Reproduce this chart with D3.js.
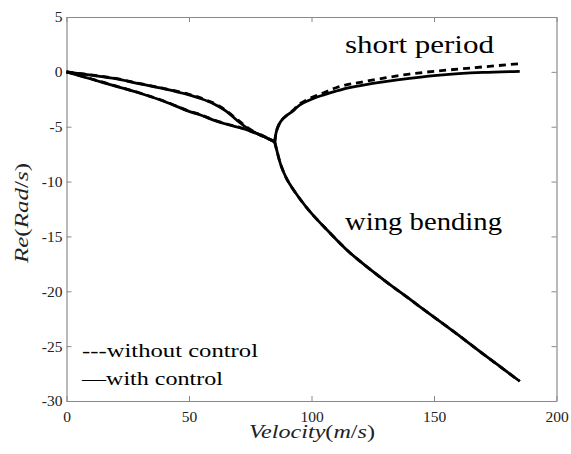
<!DOCTYPE html>
<html><head><meta charset="utf-8">
<script src="https://cdn.jsdelivr.net/npm/d3@7/dist/d3.min.js"></script>
<style>body{margin:0;background:#fff}svg{display:block}
text{font-family:"Liberation Serif","Times New Roman","DejaVu Serif",serif}</style>
</head><body>
<svg id="c" width="571" height="454"></svg>
<script>
// Velocity samples (m/s) and real parts (rad/s)
const velPre = [0, 10, 20, 30, 40, 50, 55, 60, 65, 70, 75, 80, 85];
const upperPreWith    = [0, -0.3, -0.62, -1.1, -1.55, -2.1, -2.45, -2.9, -3.55, -4.5, -5.3, -5.85, -6.35];
const upperPreWithout = [0, -0.28, -0.6, -1.07, -1.52, -2.05, -2.4, -2.85, -3.5, -4.4, -5.25, -5.85, -6.35];
const lowerPreWith    = [0, -0.65, -1.3, -1.95, -2.7, -3.6, -3.95, -4.4, -4.75, -5.05, -5.4, -5.85, -6.4];
const lowerPreWithout = [0, -0.63, -1.28, -1.93, -2.68, -3.57, -3.93, -4.37, -4.72, -5.02, -5.38, -5.8, -6.4];

const velShort = [85, 85.5, 86.5, 88, 90, 92.5, 95, 100, 105, 110, 115, 120, 130, 140, 150, 160, 170, 185];
const shortWith    = [-6.4, -5.6, -4.9, -4.35, -3.95, -3.55, -3.05, -2.5, -2.1, -1.75, -1.45, -1.25, -0.9, -0.6, -0.35, -0.17, -0.05, 0.05];
const shortWithout = [-6.4, -5.6, -4.9, -4.35, -3.95, -3.5, -2.95, -2.35, -1.9, -1.45, -1.15, -0.95, -0.55, -0.2, 0.05, 0.25, 0.45, 0.75];

const velWing = [85, 86, 87.5, 90, 95, 100, 105, 110, 115, 120, 130, 140, 150, 160, 170, 185];
const wingWith    = [-6.4, -7.3, -8.5, -9.8, -11.5, -12.9, -14.1, -15.25, -16.35, -17.3, -19.05, -20.7, -22.35, -24.0, -25.7, -28.2];
const wingWithout = [-6.4, -7.3, -8.5, -9.8, -11.5, -12.9, -14.1, -15.25, -16.35, -17.3, -19.05, -20.7, -22.35, -24.0, -25.7, -28.2];

const xTicks = [0, 50, 100, 150, 200];
const yTicks = [5, 0, -5, -10, -15, -20, -25, -30];
const modeLabels = ["short period", "wing bending"];
const legendLabels = ["---without control", "\u2014with control"];

const svg = d3.select("#c");
const L = 66.5, R = 556.5, T = 17, B = 401;
const x = d3.scaleLinear().domain([0, 200]).range([L, R]);
const y = d3.scaleLinear().domain([-30, 5]).range([B, T]);
const axisColor = "#8a8a8a";
const fmt = d => String(d);

function styleAxis(g, noLabels) {
  g.attr("font-family", null);
  g.select(".domain").attr("stroke", axisColor).attr("stroke-width", 1.2);
  g.selectAll(".tick line").attr("stroke", axisColor).attr("stroke-width", 1);
  g.selectAll(".tick text").attr("font-size", 15.5).attr("fill", "#222");
  if (noLabels) g.selectAll(".tick text").remove();
}
svg.append("g").attr("transform", `translate(0,${B})`)
  .call(d3.axisBottom(x).tickValues(xTicks).tickFormat(fmt).tickSizeInner(-5).tickSizeOuter(0).tickPadding(10))
  .call(g => styleAxis(g, false));
svg.append("g").attr("transform", `translate(0,${T})`)
  .call(d3.axisTop(x).tickValues(xTicks).tickSizeInner(-5).tickSizeOuter(0))
  .call(g => styleAxis(g, true));
svg.append("g").attr("transform", `translate(${L},0)`)
  .call(d3.axisLeft(y).tickValues(yTicks).tickFormat(fmt).tickSizeInner(-5).tickSizeOuter(0).tickPadding(4))
  .call(g => styleAxis(g, false));
svg.append("g").attr("transform", `translate(${R},0)`)
  .call(d3.axisRight(y).tickValues(yTicks).tickSizeInner(-5).tickSizeOuter(0))
  .call(g => styleAxis(g, true));

const lineGen = d3.line().x(d => x(d[0])).y(d => y(d[1])).curve(d3.curveCatmullRom.alpha(0.5));
function draw(vs, ys, dashed) {
  svg.append("path").datum(vs.map((v, i) => [v, ys[i]]))
    .attr("d", lineGen).attr("fill", "none").attr("stroke", "#000")
    .attr("stroke-width", 2.8).attr("stroke-linejoin", "round")
    .attr("stroke-dasharray", dashed ? "7,5" : null);
}
draw(velPre, upperPreWithout, true);
draw(velPre, lowerPreWithout, true);
draw(velShort, shortWithout, true);
draw(velWing, wingWithout, true);
draw(velPre, upperPreWith, false);
draw(velPre, lowerPreWith, false);
draw(velShort, shortWith, false);
draw(velWing, wingWith, false);

svg.append("text").attr("x", 345).attr("y", 52.5)
  .attr("font-size", 26).attr("textLength", 149).attr("lengthAdjust", "spacingAndGlyphs").text(modeLabels[0]);
svg.append("text").attr("x", 345).attr("y", 230)
  .attr("font-size", 26).attr("textLength", 157).attr("lengthAdjust", "spacingAndGlyphs").text(modeLabels[1]);

svg.append("text").attr("x", 82).attr("y", 357)
  .attr("font-size", 19).attr("textLength", 176).attr("lengthAdjust", "spacingAndGlyphs").text(legendLabels[0]);
svg.append("text").attr("x", 82).attr("y", 384.5)
  .attr("font-size", 19).attr("textLength", 141).attr("lengthAdjust", "spacingAndGlyphs").text(legendLabels[1]);

// Axis titles
const xt = svg.append("text").attr("x", 249).attr("y", 438)
  .attr("font-size", 19).attr("fill", "#222")
  .attr("textLength", 126).attr("lengthAdjust", "spacingAndGlyphs");
xt.append("tspan").attr("font-style", "italic").text("Velocity");
xt.append("tspan").text("(");
xt.append("tspan").attr("font-style", "italic").text("m");
xt.append("tspan").text("/");
xt.append("tspan").attr("font-style", "italic").text("s");
xt.append("tspan").text(")");

const yt = svg.append("text").attr("transform", `translate(28,263) rotate(-90)`)
  .attr("font-size", 19).attr("fill", "#222")
  .attr("textLength", 100).attr("lengthAdjust", "spacingAndGlyphs");
yt.append("tspan").attr("font-style", "italic").text("Re");
yt.append("tspan").text("(");
yt.append("tspan").attr("font-style", "italic").text("Rad");
yt.append("tspan").text("/");
yt.append("tspan").attr("font-style", "italic").text("s");
yt.append("tspan").text(")");
</script>
</body></html>
